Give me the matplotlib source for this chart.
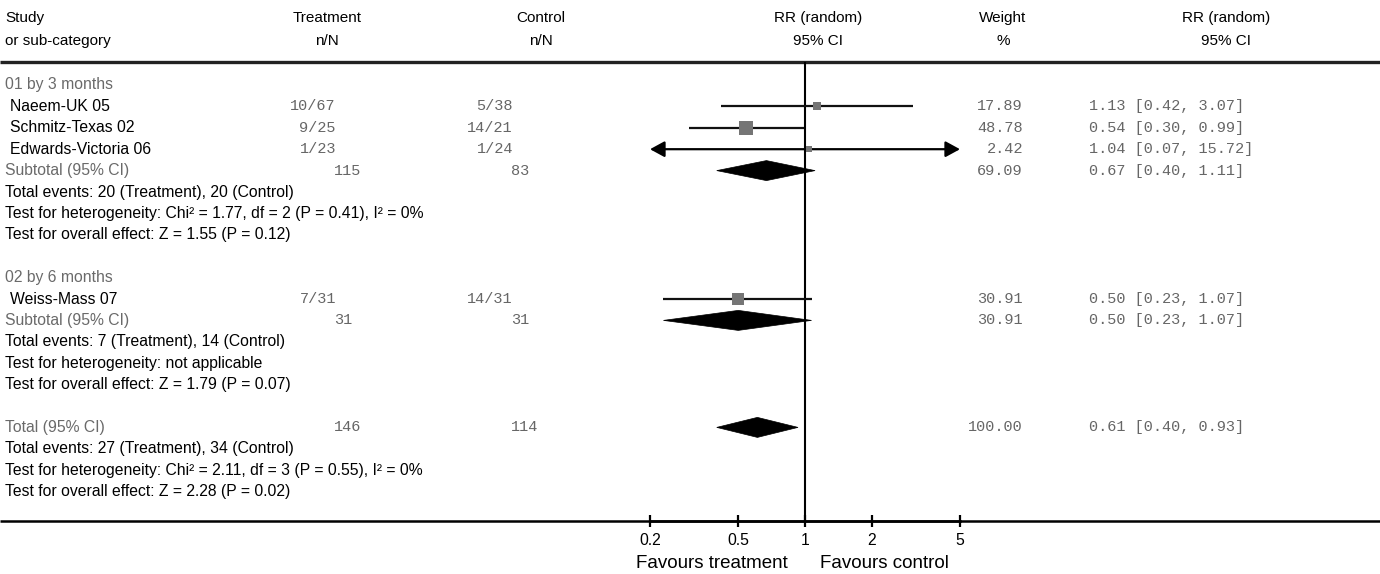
import matplotlib
matplotlib.use("Agg")
import matplotlib.pyplot as plt
from matplotlib.patches import Polygon

# ---------------- data ----------------
studies = ["Naeem-UK 05", "Schmitz-Texas 02", "Edwards-Victoria 06", "Weiss-Mass 07"]
study_group = [0, 0, 0, 1]
treat_n = [10, 9, 1, 7]
treat_N = [67, 25, 23, 31]
ctrl_n = [5, 14, 1, 14]
ctrl_N = [38, 21, 24, 31]
weights = [17.89, 48.78, 2.42, 30.91]
rr = [1.13, 0.54, 1.04, 0.50]
rr_lo = [0.42, 0.30, 0.07, 0.23]
rr_hi = [3.07, 0.99, 15.72, 1.07]

groups = ["01 by 3 months", "02 by 6 months"]
sub_treat_N = [115, 31]
sub_ctrl_N = [83, 31]
sub_weight = [69.09, 30.91]
sub_rr = [0.67, 0.50]
sub_lo = [0.40, 0.23]
sub_hi = [1.11, 1.07]
sub_events = ["Total events: 20 (Treatment), 20 (Control)",
              "Total events: 7 (Treatment), 14 (Control)"]
sub_het = ["Test for heterogeneity: Chi\u00b2 = 1.77, df = 2 (P = 0.41), I\u00b2 = 0%",
           "Test for heterogeneity: not applicable"]
sub_z = ["Test for overall effect: Z = 1.55 (P = 0.12)",
         "Test for overall effect: Z = 1.79 (P = 0.07)"]

tot_treat_N = 146
tot_ctrl_N = 114
tot_weight = 100.00
tot_rr = 0.61
tot_lo = 0.40
tot_hi = 0.93
tot_events = "Total events: 27 (Treatment), 34 (Control)"
tot_het = "Test for heterogeneity: Chi\u00b2 = 2.11, df = 3 (P = 0.55), I\u00b2 = 0%"
tot_z = "Test for overall effect: Z = 2.28 (P = 0.02)"

xticks = [0.2, 0.5, 1, 2, 5]
xtick_labels = ["0.2", "0.5", "1", "2", "5"]
xlim = (0.2, 5)

# ---------------- layout ----------------
W, H = 1380, 574
SANS = ["Liberation Sans", "DejaVu Sans"]
MONO = ["Liberation Mono", "DejaVu Sans Mono"]
FS = 11.3
FSH = 11.0
FSM = 11.0
GRAY = "#6a6a6a"
NUMGRAY = "#666666"

fig = plt.figure(figsize=(W / 100, H / 100), dpi=100)
bg = fig.add_axes([0, 0, 1, 1])
bg.set_xlim(0, W)
bg.set_ylim(H, 0)
bg.axis("off")

ax_left, ax_right = 650, 960
ax = fig.add_axes([ax_left / W, 0, (ax_right - ax_left) / W, 1])
ax.set_xscale("log")
ax.set_xlim(*xlim)
ax.set_ylim(H, 0)
ax.patch.set_visible(False)
for s in ["top", "left", "right"]:
    ax.spines[s].set_visible(False)
AXIS_Y = 521
ax.spines["bottom"].set_position(("data", AXIS_Y))
ax.spines["bottom"].set_linewidth(1.8)
ax.set_yticks([])
ax.set_xticks(xticks)
ax.set_xticklabels(xtick_labels, fontsize=11.3, family=SANS)
ax.minorticks_off()
ax.tick_params(axis="x", direction="inout", length=9, width=1.6, pad=4)

def txt(x, y, s, ha="left", mono=False, color="black", size=None):
    bg.text(x, y, s, ha=ha, va="center",
            family=MONO if mono else SANS,
            fontsize=size if size else (FSM if mono else FS), color=color)

# headers
HY1, HY2 = 18, 41
txt(5, HY1, "Study", size=FSH)
txt(5, HY2, "or sub-category", size=FSH)
txt(327, HY1, "Treatment", ha="center", size=FSH)
txt(327, HY2, "n/N", ha="center", size=FSH)
txt(541, HY1, "Control", ha="center", size=FSH)
txt(541, HY2, "n/N", ha="center", size=FSH)
txt(818, HY1, "RR (random)", ha="center", size=FSH)
txt(818, HY2, "95% CI", ha="center", size=FSH)
txt(1003, HY1, "Weight", ha="center", size=FSH)
txt(1003, HY2, "%", ha="center", size=FSH)
txt(1226, HY1, "RR (random)", ha="center", size=FSH)
txt(1226, HY2, "95% CI", ha="center", size=FSH)

bg.hlines(62, 0, W, color="#222222", lw=2.4)
bg.hlines(AXIS_Y, 0, W, color="black", lw=1.8)
ax.vlines(1, 62, AXIS_Y, color="black", lw=1.5)

Y0, STEP = 85, 21.4
def rowy(i):
    return Y0 + STEP * i

TN_X, CN_X = 336, 513       # right edge of n/N columns
W_X, CI_X = 1023, 1089      # weight right edge, CI text left

def ci_text(r, lo, hi):
    return f"{r:.2f} [{lo:.2f}, {hi:.2f}]"

def draw_diamond(r, lo, hi, y, h=10):
    poly = Polygon([(lo, y), (r, y - h), (hi, y), (r, y + h)], closed=True,
                   facecolor="black", edgecolor="black", lw=0.5)
    ax.add_patch(poly)

row = 0
for g, gname in enumerate(groups):
    txt(5, rowy(row), gname, color=GRAY)
    row += 1
    for i in range(len(studies)):
        if study_group[i] != g:
            continue
        y = rowy(row)
        txt(10, y, studies[i])
        txt(TN_X, y, f"{treat_n[i]}/{treat_N[i]}", ha="right", mono=True, color=NUMGRAY)
        txt(CN_X, y, f"{ctrl_n[i]}/{ctrl_N[i]}", ha="right", mono=True, color=NUMGRAY)
        txt(W_X, y, f"{weights[i]:.2f}", ha="right", mono=True, color=NUMGRAY)
        txt(CI_X, y, ci_text(rr[i], rr_lo[i], rr_hi[i]), mono=True, color=NUMGRAY)
        lo = max(rr_lo[i], xlim[0])
        hi = min(rr_hi[i], xlim[1])
        if rr_lo[i] < xlim[0] or rr_hi[i] > xlim[1]:
            ax.annotate("", xy=(lo, y), xytext=(hi, y),
                        arrowprops=dict(arrowstyle="<|-|>,head_length=0.55,head_width=0.3",
                                        color="black", lw=1.6,
                                        mutation_scale=16, shrinkA=0, shrinkB=0))
        else:
            ax.plot([lo, hi], [y, y], color="#111111", lw=1.6, solid_capstyle="butt")
        side = max(2.0 * weights[i] ** 0.5, 5.5)
        ax.plot([rr[i]], [y], marker="s", markersize=side * 0.72, color="#757575",
                markeredgewidth=0, zorder=3)
        row += 1
    y = rowy(row)
    txt(5, y, "Subtotal (95% CI)", color=GRAY)
    txt(TN_X - 2, y, f"{sub_treat_N[g]}", mono=True, color=NUMGRAY)
    txt(CN_X - 2, y, f"{sub_ctrl_N[g]}", mono=True, color=NUMGRAY)
    txt(W_X, y, f"{sub_weight[g]:.2f}", ha="right", mono=True, color=NUMGRAY)
    txt(CI_X, y, ci_text(sub_rr[g], sub_lo[g], sub_hi[g]), mono=True, color=NUMGRAY)
    draw_diamond(sub_rr[g], sub_lo[g], sub_hi[g], y)
    row += 1
    txt(5, rowy(row), sub_events[g]); row += 1
    txt(5, rowy(row), sub_het[g]); row += 1
    txt(5, rowy(row), sub_z[g]); row += 1
    row += 1

y = rowy(row)
txt(5, y, "Total (95% CI)", color=GRAY)
txt(TN_X - 2, y, f"{tot_treat_N}", mono=True, color=NUMGRAY)
txt(CN_X - 2, y, f"{tot_ctrl_N}", mono=True, color=NUMGRAY)
txt(W_X, y, f"{tot_weight:.2f}", ha="right", mono=True, color=NUMGRAY)
txt(CI_X, y, ci_text(tot_rr, tot_lo, tot_hi), mono=True, color=NUMGRAY)
draw_diamond(tot_rr, tot_lo, tot_hi, y)
row += 1
txt(5, rowy(row), tot_events); row += 1
txt(5, rowy(row), tot_het); row += 1
txt(5, rowy(row), tot_z); row += 1

txt(788, 564, "Favours treatment", ha="right", size=13.5)
txt(820, 564, "Favours control", ha="left", size=13.5)

fig.savefig("out.png", dpi=100)
